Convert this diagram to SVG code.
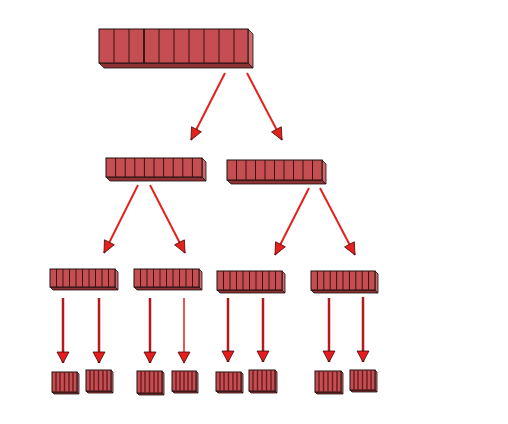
<svg xmlns="http://www.w3.org/2000/svg" width="508" height="424" viewBox="0 0 508 424">
<defs>
<style>
.face{fill:#c44e51;stroke:#1e1010;stroke-width:1}
.side{fill:#cc6a6c;stroke:#1e1010;stroke-width:0.8}
.bot{fill:#8e3234;stroke:#1e1010;stroke-width:0.8}
.cell{stroke:#3a1212;stroke-width:1}
.cell4{stroke:#6a1c1e;stroke-width:1.4}
.sl{stroke:#e3211d;stroke-width:2;fill:none}
.vl{stroke:#b5191c;stroke-width:2.5;fill:none}
</style>
<marker id="ah" markerUnits="userSpaceOnUse" markerWidth="14" markerHeight="14" viewBox="0 0 14 14" refX="13" refY="7" orient="auto">
<path d="M1,1.5 L13,7 L1,12.5 Z" fill="#e3211d" stroke="#5a1010" stroke-width="0.8"/>
</marker>
<marker id="av" markerUnits="userSpaceOnUse" markerWidth="14" markerHeight="14" viewBox="0 0 14 14" refX="12" refY="7" orient="auto">
<path d="M1,1 L12,7 L1,13 Z" fill="#e81c1c" stroke="#3a0a0a" stroke-width="0.8"/>
</marker>
</defs>
<rect width="508" height="424" fill="#ffffff"/>

<g id="connectors">
<path class="sl" d="M225,73 L191,140" marker-end="url(#ah)"/>
<path class="sl" d="M247,73 L282,140" marker-end="url(#ah)"/>
<path class="sl" d="M138,185 L104,253" marker-end="url(#ah)"/>
<path class="sl" d="M150,185 L185,253" marker-end="url(#ah)"/>
<path class="sl" d="M309,188 L275,255" marker-end="url(#ah)"/>
<path class="sl" d="M320,188 L355,255" marker-end="url(#ah)"/>
<path class="vl" d="M63,298 L63,363" marker-end="url(#av)"/>
<path class="vl" d="M99,298 L99,363" marker-end="url(#av)"/>
<path class="vl" d="M150,298 L150,363" marker-end="url(#av)"/>
<path class="vl" d="M184,298 L184,363" marker-end="url(#av)" style="stroke-width:1.5;stroke:#e3211d"/>
<path class="vl" d="M228,298 L228,362" marker-end="url(#av)"/>
<path class="vl" d="M263,298 L263,362" marker-end="url(#av)"/>
<path class="vl" d="M329,298 L329,362" marker-end="url(#av)"/>
<path class="vl" d="M363,297 L363,362" marker-end="url(#av)"/>
</g>

<g id="root">
<polygon class="bot" points="99,63 248,63 253,68 104,68"/>
<polygon class="side" points="248,29 253,34 253,68 248,63"/>
<rect class="face" x="99" y="29" width="149" height="34"/>
<path class="cell" d="M114,29V63M129,29V63M144,29V63M159,29V63M174,29V63M189,29V63M204,29V63M219,29V63M234,29V63"/>
<path d="M144,29V63" stroke="#1e1010" stroke-width="1.5"/>
</g>

<g id="l2a">
<polygon class="bot" points="106,177 202,177 206,181 110,181"/>
<polygon class="side" points="202,158 206,162 206,181 202,177"/>
<rect class="face" x="106" y="158" width="96" height="19"/>
<path class="cell" d="M115.6,158V177M125.2,158V177M134.8,158V177M144.4,158V177M154,158V177M163.6,158V177M173.2,158V177M182.8,158V177M192.4,158V177"/>
</g>

<g id="l2b">
<polygon class="bot" points="227,180 322,180 326,184 231,184"/>
<polygon class="side" points="322,160 326,164 326,184 322,180"/>
<rect class="face" x="227" y="160" width="95" height="20"/>
<path class="cell" d="M236.5,160V180M246,160V180M255.5,160V180M265,160V180M274.5,160V180M284,160V180M293.5,160V180M303,160V180M312.5,160V180"/>
</g>

<g id="l3a">
<polygon class="bot" points="50,287 115,287 118,290 53,290"/>
<polygon class="side" points="115,269 118,272 118,290 115,287"/>
<rect class="face" x="50" y="269" width="65" height="18"/>
<path class="cell" d="M56.5,269V287M63,269V287M69.5,269V287M76,269V287M82.5,269V287M89,269V287M95.5,269V287M102,269V287M108.5,269V287"/>
</g>
<g id="l3b">
<polygon class="bot" points="134,287 199,287 202,290 137,290"/>
<polygon class="side" points="199,269 202,272 202,290 199,287"/>
<rect class="face" x="134" y="269" width="65" height="18"/>
<path class="cell" d="M140.5,269V287M147,269V287M153.5,269V287M160,269V287M166.5,269V287M173,269V287M179.5,269V287M186,269V287M192.5,269V287"/>
</g>
<g id="l3c">
<polygon class="bot" points="217,290 282,290 285,293 220,293"/>
<polygon class="side" points="282,271 285,274 285,293 282,290"/>
<rect class="face" x="217" y="271" width="65" height="19"/>
<path class="cell" d="M223.5,271V290M230,271V290M236.5,271V290M243,271V290M249.5,271V290M256,271V290M262.5,271V290M269,271V290M275.5,271V290"/>
</g>
<g id="l3d">
<polygon class="bot" points="311,290 375,290 378,293 314,293"/>
<polygon class="side" points="375,271 378,274 378,293 375,290"/>
<rect class="face" x="311" y="271" width="64" height="19"/>
<path class="cell" d="M317.4,271V290M323.8,271V290M330.2,271V290M336.6,271V290M343,271V290M349.4,271V290M355.8,271V290M362.2,271V290M368.6,271V290"/>
</g>

<g id="l4a">
<polygon class="bot" points="52,392 77,392 79,394 54,394"/>
<polygon class="side" points="77,372 79,374 79,394 77,392"/>
<rect class="face" x="52" y="372" width="25" height="20"/>
<path class="cell4" d="M56,372V392M60,372V392M64.5,372V392M69,372V392M73,372V392"/>
</g>
<g id="l4b">
<polygon class="bot" points="86,391 111,391 113,393 88,393"/>
<polygon class="side" points="111,370 113,372 113,393 111,391"/>
<rect class="face" x="86" y="370" width="25" height="21"/>
<path class="cell4" d="M90,370V391M94,370V391M98.5,370V391M103,370V391M107,370V391"/>
</g>
<g id="l4c">
<polygon class="bot" points="137,393 162,393 164,395 139,395"/>
<polygon class="side" points="162,371 164,373 164,395 162,393"/>
<rect class="face" x="137" y="371" width="25" height="22"/>
<path class="cell4" d="M141,371V393M145,371V393M149.5,371V393M154,371V393M158,371V393"/>
</g>
<g id="l4d">
<polygon class="bot" points="172,391 196,391 198,393 174,393"/>
<polygon class="side" points="196,371 198,373 198,393 196,391"/>
<rect class="face" x="172" y="371" width="24" height="20"/>
<path class="cell4" d="M176,371V391M180,371V391M184,371V391M188,371V391M192,371V391"/>
</g>
<g id="l4e">
<polygon class="bot" points="216,391 241,391 243,393 218,393"/>
<polygon class="side" points="241,372 243,374 243,393 241,391"/>
<rect class="face" x="216" y="372" width="25" height="19"/>
<path class="cell4" d="M220,372V391M224,372V391M228.5,372V391M233,372V391M237,372V391"/>
</g>
<g id="l4f">
<polygon class="bot" points="249,391 275,391 277,393 251,393"/>
<polygon class="side" points="275,370 277,372 277,393 275,391"/>
<rect class="face" x="249" y="370" width="26" height="21"/>
<path class="cell4" d="M253,370V391M257.5,370V391M262,370V391M266.5,370V391M271,370V391"/>
</g>
<g id="l4g">
<polygon class="bot" points="315,392 341,392 343,394 317,394"/>
<polygon class="side" points="341,371 343,373 343,394 341,392"/>
<rect class="face" x="315" y="371" width="26" height="21"/>
<path class="cell4" d="M319,371V392M323.5,371V392M328,371V392M332.5,371V392M337,371V392"/>
</g>
<g id="l4h">
<polygon class="bot" points="350,390 375,390 377,392 352,392"/>
<polygon class="side" points="375,370 377,372 377,392 375,390"/>
<rect class="face" x="350" y="370" width="25" height="20"/>
<path class="cell4" d="M354,370V390M358,370V390M362.5,370V390M367,370V390M371,370V390"/>
</g>
</svg>
